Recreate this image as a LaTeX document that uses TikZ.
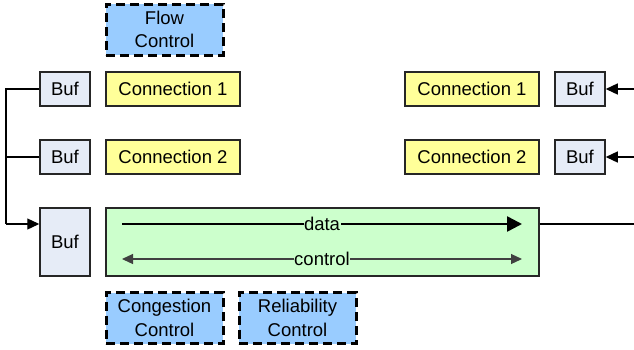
\documentclass[tikz,border=0pt]{standalone}
\usepackage{fontspec}
\setmainfont{Liberation Sans}
\usetikzlibrary{arrows.meta}
\definecolor{buffill}{HTML}{E6ECF7}
\definecolor{connfill}{HTML}{FFFF99}
\definecolor{ctrlfill}{HTML}{99CCFF}
\definecolor{greenfill}{HTML}{CCFFCC}
\tikzset{
  box/.style={draw=black!85, line width=1.5pt, inner sep=0pt, align=center,
    font=\fontsize{18.5}{23.5}\selectfont},
  bufbox/.style={box, fill=buffill, minimum width=50pt, minimum height=34pt},
  connbox/.style={box, fill=connfill, minimum width=134pt, minimum height=34pt},
  ctrlbox/.style={box, fill=ctrlfill, draw=black, line width=3pt, dash pattern=on 9pt off 5pt,
    minimum width=117pt, minimum height=51pt},
  wire/.style={line width=1.3pt},
  arr/.style={wire, -{Triangle[length=12pt,width=11pt]}},
  lbl/.style={fill=greenfill, inner sep=0.5pt, font=\fontsize{18.5}{20}\selectfont}
}
\begin{document}
\begin{tikzpicture}[x=1pt,y=-1pt]
\useasboundingbox (0,0) rectangle (634,349);
% top control
\node[ctrlbox] (flow) at (164.5,29.5) {Flow\\Control};
% left column
\node[bufbox] (lbuf1) at (65,89) {Buf};
\node[connbox] (lconn1) at (173,89) {Connection 1};
\node[bufbox] (lbuf2) at (65,157) {Buf};
\node[connbox] (lconn2) at (173,157) {Connection 2};
\node[bufbox, minimum height=68pt] (bigbuf) at (65,242) {Buf};
\node[box, fill=greenfill, minimum width=433pt, minimum height=68pt] (pipe) at (322.5,242) {};
% right column
\node[connbox] (rconn1) at (472,89) {Connection 1};
\node[bufbox] (rbuf1) at (580,89) {Buf};
\node[connbox] (rconn2) at (472,157) {Connection 2};
\node[bufbox] (rbuf2) at (580,157) {Buf};
% bottom controls
\node[ctrlbox] (cong) at (164.5,318) {Congestion\\Control};
\node[ctrlbox] (rel) at (297.5,318) {Reliability\\Control};
% coordinates
\coordinate (lb) at (6,224);
\coordinate (rin1) at (634,89);
\coordinate (rin2) at (634,157);
\coordinate (rout) at (634,224);
\coordinate (d1) at (122,224);
\coordinate (d2) at (522,224);
\coordinate (c1) at (122,259);
\coordinate (c2) at (522,259);
% left wiring
\draw[wire] (lbuf1.west) -| (lb);
\draw[arr] (lb) -- (lb -| bigbuf.west);
\draw[wire] (lbuf2.west) -- (lbuf2.west -| lb);
% right wiring
\draw[arr] (rin1) -- (rbuf1.east);
\draw[arr] (rin2) -- (rbuf2.east);
\draw[wire] (rout -| pipe.east) -- (rout);
% data and control
\draw[line width=2.6pt, -{Triangle[length=15pt,width=15pt]}] (d1) -- node[lbl] (datalbl) {data} (d2);
\draw[line width=1.2pt, black!75, {Triangle[length=11pt,width=10pt]}-{Triangle[length=11pt,width=10pt]}] (c1) -- node[lbl, text=black] (ctrllbl) {control} (c2);
\end{tikzpicture}
\end{document}
